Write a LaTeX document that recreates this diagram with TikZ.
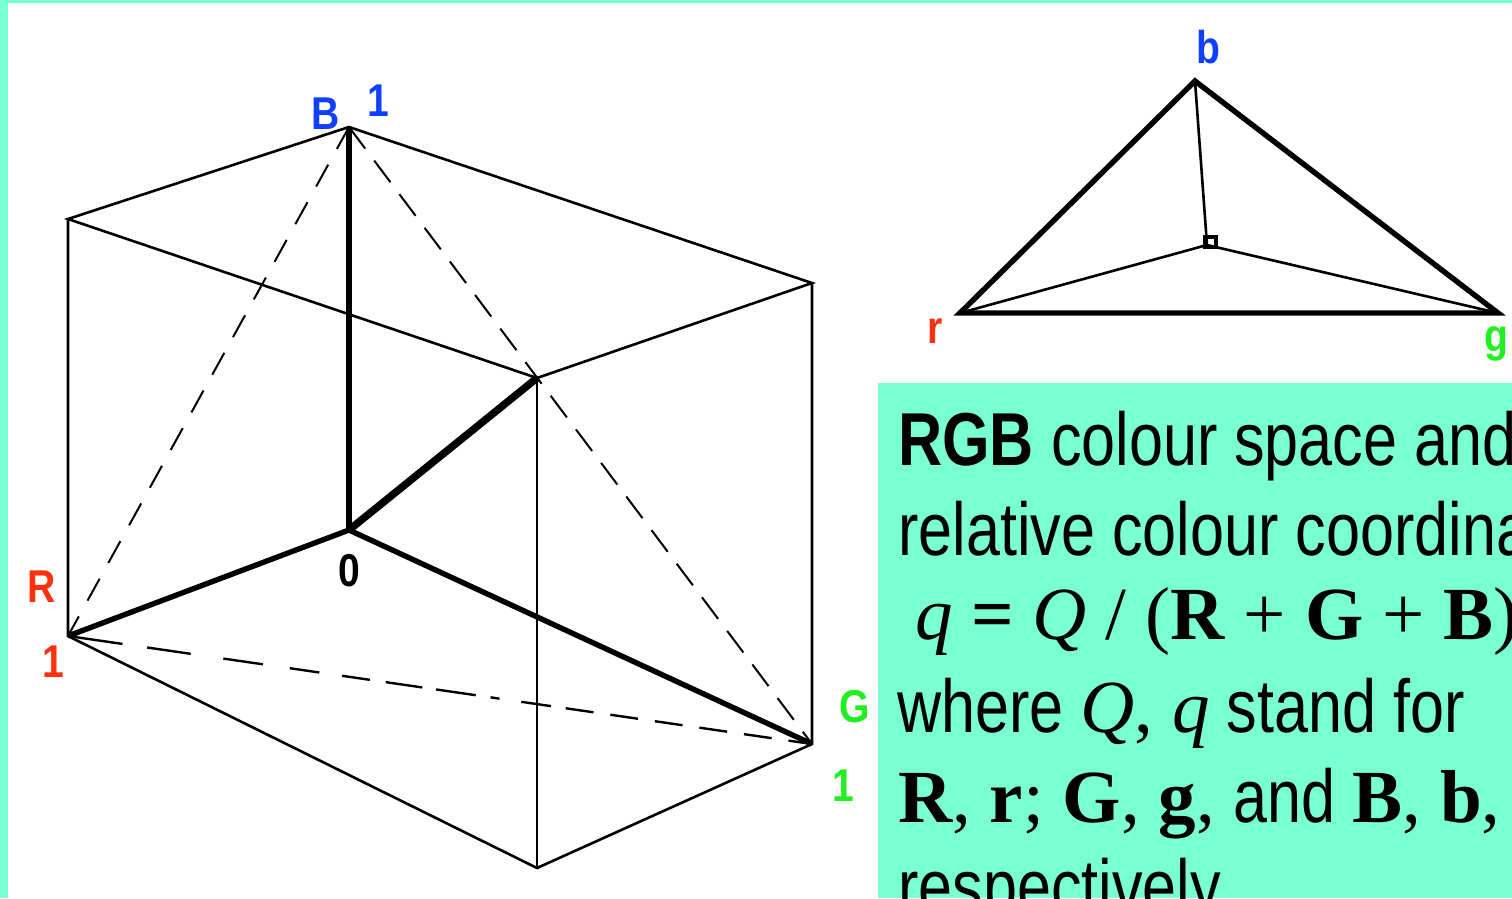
\documentclass[tikz,border=0pt]{standalone}
\usepackage{fontspec}
\setmainfont{Liberation Serif}
\newfontfamily\narrowsans[FakeStretch=0.815]{Liberation Sans}
\newfontfamily\lblsans[FakeStretch=0.85]{Liberation Sans}
\definecolor{aqua}{HTML}{7AFFD3}
\definecolor{lblblue}{HTML}{1040FF}
\definecolor{lblred}{HTML}{FF3010}
\definecolor{lblgreen}{HTML}{20F020}
\tikzset{
  thinline/.style={draw=black,line width=2.6pt},
  thickline/.style={draw=black,line width=5.4pt},
  dashline/.style={draw=black,line width=2pt,dash pattern=on 25pt off 18pt},
  lbl/.style={inner sep=0pt,font=\lblsans\bfseries\fontsize{46}{46}\selectfont},
  txt/.style={anchor=base west,inner sep=0pt,font=\fontsize{75}{75}\selectfont},
}
\newcommand{\ns}{\narrowsans}
\begin{document}
\begin{tikzpicture}[x=1pt,y=-1pt]
\useasboundingbox (0,0) rectangle (1512,898);
\clip (0,0) rectangle (1512,898);
\fill[white] (0,0) rectangle (1512,898);
\fill[aqua] (0,0) rectangle (1512,3);
\fill[aqua] (0,0) rectangle (8,898);
\fill[aqua] (878,383) rectangle (1512,898);
% cube
\coordinate (B) at (349,127);
\coordinate (O) at (349,530);
\coordinate (R) at (68,636);
\coordinate (G) at (812,744);
\coordinate (C) at (537,378);
\coordinate (TL) at (68,219);
\coordinate (TR) at (812,283);
\coordinate (BM) at (537,868);
\draw[thinline] (B) -- (TL) -- (C) -- (TR) -- cycle;
\draw[thinline] (TL) -- (R) -- (BM) -- (G) -- (TR);
\draw[thinline] (C) -- (BM);
\draw[dashline] (B) -- (R);
\draw[dashline,dash pattern=on 27pt off 15pt] (B) -- (G);
\draw[dashline,line width=2.4pt,dash pattern=on 55pt off 25pt on 44pt off 33pt on 40pt off 27pt on 30pt off 23pt on 28pt off 16pt on 37pt off 14pt on 40pt off 15pt on 9pt off 22pt on 30pt off 15pt on 28pt off 17pt on 28pt off 17pt on 28pt off 17pt on 28pt off 17pt on 28pt off 17pt] (R) -- (G);
\draw[thickline] (O) -- (B);
\draw[thickline,line width=7.5pt] (O) -- (C);
\draw[thickline] (O) -- (R);
\draw[thickline] (O) -- (G);
% triangle
\coordinate (tb) at (1195,81);
\coordinate (tr) at (960,313);
\coordinate (tg) at (1498,313);
\coordinate (tc) at (1207,245);
\draw[thinline] (tb) -- (tc);
\draw[thinline] (tr) -- (tc) -- (tg);
\draw[draw=black,line width=3.4pt] (1205,237) rectangle (1216,247);
\draw[thickline] (tb) -- (tr) -- (tg) -- cycle;
% labels
\node[lbl,text=lblblue] (lB) at (326,114) {B};
\node[lbl,text=lblblue] (l1b) at (378,101) {1};
\node[lbl,text=lblred] (lR) at (42,587) {R};
\node[lbl,text=lblred] (l1r) at (53,662) {1};
\node[lbl,text=black] (l0) at (349,571) {0};
\node[lbl,text=lblgreen] (lG) at (855,707) {G};
\node[lbl,text=lblgreen] (l1g) at (843,786) {1};
\node[lbl,text=lblblue] (lb) at (1208,47) {b};
\node[lbl,text=lblred] (lr) at (935,331) {r};
\node[lbl,text=lblgreen] (lg) at (1496,344) {g};
% text
\node[txt] (t1) at (898,465) {\ns\bfseries RGB\mdseries\ colour space and};
\node[txt] (t2) at (898,555) {\ns relative colour coordinates};
\node[txt] (t3) at (915,639) {\textit{q} \textbf{=} \textit{Q} / (\textbf{R} + \textbf{G} + \textbf{B})};
\node[txt] (t4) at (897,732) {{\ns where }\textit{Q}, \textit{q}{\ns\ stand for}};
\node[txt] (t5) at (898,822) {\textbf{R}, \textbf{r}; \textbf{G}, \textbf{g}, {\ns and }\textbf{B}, \textbf{b},};
\node[txt] (t6) at (898,912) {\ns respectively};
\end{tikzpicture}
\end{document}
